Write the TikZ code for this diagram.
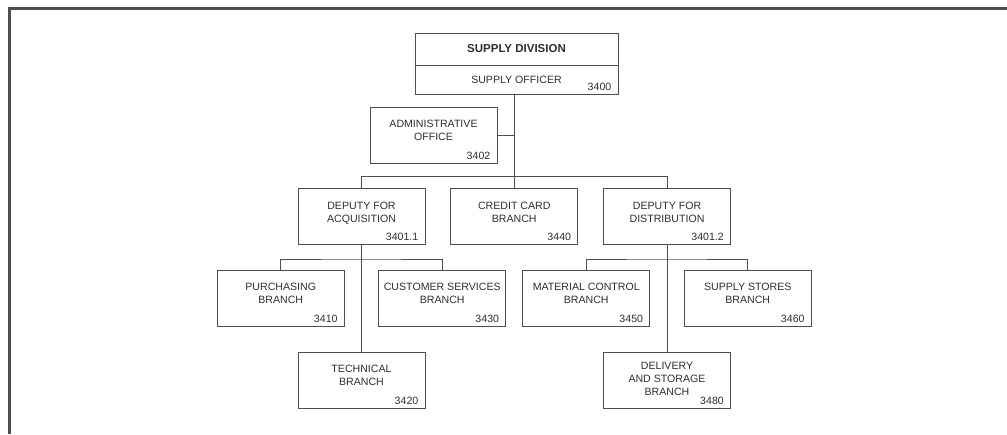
\documentclass[tikz,border=0pt]{standalone}
\usepackage{fontspec}
\setmainfont{Liberation Sans}
\usetikzlibrary{positioning}
\definecolor{boxline}{RGB}{82,74,98}
\definecolor{boxtext}{RGB}{48,44,56}
\definecolor{frameline}{RGB}{78,76,86}

\begin{document}
\begin{tikzpicture}[
    x=1pt, y=-1pt,
    node distance=152.75pt,
    on grid,
    every node/.style={text=boxtext, font=\fontsize{10.6}{13}\selectfont},
    head/.style={draw=boxline, line width=1pt, minimum width=203pt, inner sep=0pt},
    unit/.style={draw=boxline, line width=1pt, minimum width=127pt, minimum height=56pt,
                 align=center, inner sep=0pt, text depth=9pt},
    num/.style={anchor=south east, inner xsep=7pt, inner ysep=4pt},
    link/.style={draw=boxline, line width=1pt},
]
    \useasboundingbox (0,0) rectangle (1007,434);
    \draw[frameline, line width=3pt] (9,434) -- (9,8) -- (1007,8);

    \node[head, minimum height=32pt, font=\fontsize{11.5}{13}\bfseries\selectfont]
                                                      (div)   at (516.5,49) {SUPPLY DIVISION};
    \node[head, minimum height=29pt, below=30.5pt of div,
          label={[num]south east:3400}]               (off)   {SUPPLY OFFICER};

    \node[unit, below left=55.5pt and 83pt of off,
          label={[num]south east:3402}]               (admin) {ADMINISTRATIVE\\OFFICE};

    \node[unit, label={[num]south east:3440}]         (credit) at (514.25,216.5) {CREDIT CARD\\BRANCH};
    \node[unit, left=of credit,
          label={[num]south east:3401.1}]             (acq)    {DEPUTY FOR\\ACQUISITION};
    \node[unit, right=of credit,
          label={[num]south east:3401.2}]             (dist)   {DEPUTY FOR\\DISTRIBUTION};

    \node[unit, below left=81.5pt and 80.75pt of acq,
          label={[num]south east:3410}]               (purch)  {PURCHASING\\BRANCH};
    \node[unit, below right=81.5pt and 80.75pt of acq,
          label={[num]south east:3430}]               (cust)   {CUSTOMER SERVICES\\BRANCH};
    \node[unit, below=163.5pt of acq,
          label={[num]south east:3420}]               (tech)   {TECHNICAL\\BRANCH};

    \node[unit, below left=81.5pt and 80.75pt of dist,
          label={[num]south east:3450}]               (mat)    {MATERIAL CONTROL\\BRANCH};
    \node[unit, below right=81.5pt and 80.75pt of dist,
          label={[num]south east:3460}]               (stores) {SUPPLY STORES\\BRANCH};
    \node[unit, below=163.5pt of dist, text depth=2pt,
          label={[num]south east:3480}]               (deliv)  {DELIVERY\\AND STORAGE\\BRANCH};

    \coordinate[below=82pt of off.south]  (topbus);
    \coordinate[below=14pt of acq.south]  (acqbus);
    \coordinate[below=14pt of dist.south] (distbus);

    \path[link]
        (credit.north |- off.south) -- (credit.north)
        (admin.east) -- (admin.east -| credit.north)
        (acq.north)  |- (topbus) -| (dist.north)
        (acq.south)  -- (tech.north)
        (purch.north) |- (acqbus) -| (cust.north)
        (dist.south) -- (deliv.north)
        (mat.north)  |- (distbus) -| (stores.north)
    ;
\end{tikzpicture}
\end{document}
